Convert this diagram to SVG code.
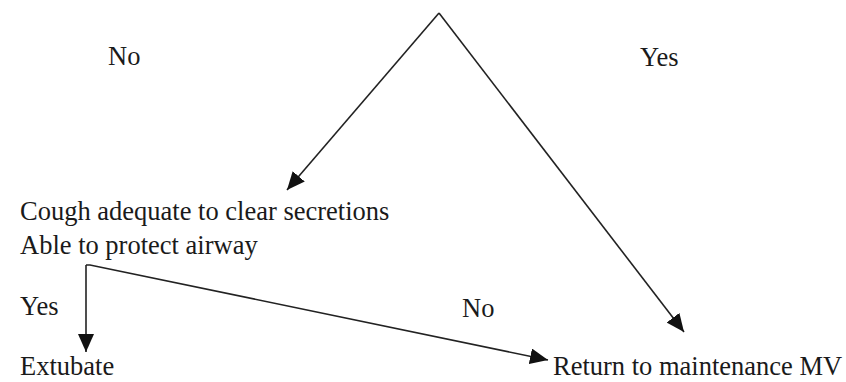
<svg xmlns="http://www.w3.org/2000/svg" width="846" height="382" viewBox="0 0 846 382">
<style>
text{font-family:"Liberation Serif","Times New Roman",serif;font-size:26.5px;fill:#1a1a1a}
.c{stroke:#222;stroke-width:1.6;fill:none}
</style>
<defs>
<marker id="a" viewBox="0 0 18 16" refX="18" refY="8" markerWidth="18" markerHeight="16" markerUnits="userSpaceOnUse" orient="auto">
<path d="M0,0 L18,8 L0,16 z" fill="#111"/>
</marker>
</defs>
<rect width="846" height="382" fill="#fff"/>
<g id="connectors">
<path class="c" d="M439,13 L287,190" marker-end="url(#a)"/>
<path class="c" d="M439,13 L684,332" marker-end="url(#a)"/>
<path class="c" d="M86,265 L86,352" marker-end="url(#a)"/>
<path class="c" d="M86,265 L90,265 L548,360" marker-end="url(#a)"/>
</g>
<g id="label-no-top"><text x="108" y="65">No</text></g>
<g id="label-yes-top"><text x="640" y="66">Yes</text></g>
<g id="node-cough"><text x="20" y="220">Cough adequate to clear secretions</text><text x="20" y="254">Able to protect airway</text></g>
<g id="label-yes-left"><text x="20" y="315">Yes</text></g>
<g id="label-no-mid"><text x="462" y="317">No</text></g>
<g id="node-extubate"><text x="20" y="375">Extubate</text></g>
<g id="node-return"><text x="553" y="375">Return to maintenance MV</text></g>
</svg>
